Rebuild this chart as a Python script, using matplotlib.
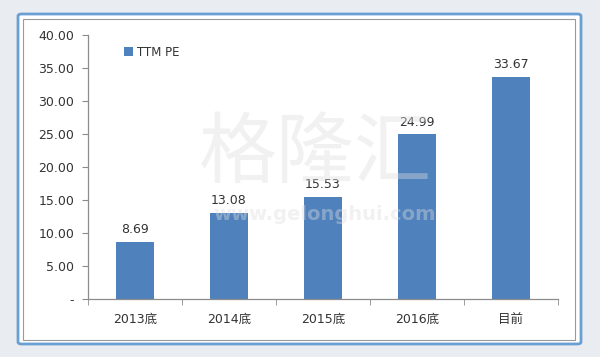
import matplotlib.pyplot as plt
from matplotlib.patches import FancyBboxPatch, Rectangle

plt.rcParams['font.family'] = ['DejaVu Sans', 'Noto Sans CJK SC']

categories = ["2013底", "2014底", "2015底", "2016底", "目前"]
ttm_pe = [8.69, 13.08, 15.53, 24.99, 33.67]
y_ticks = [0, 5, 10, 15, 20, 25, 30, 35, 40]
y_tick_labels = ["-", "5.00", "10.00", "15.00", "20.00", "25.00", "30.00", "35.00", "40.00"]

BAR_COLOR = "#4f81bd"
TEXT_COLOR = "#333333"
AXIS_COLOR = "#8c8c8c"

fig = plt.figure(figsize=(6.0, 3.57), dpi=100)
fig.patch.set_facecolor("#e9edf1")

# frame around the chart
W, H = 600.0, 357.0
fig.patches.append(FancyBboxPatch((18 / W, 1 - 344 / H), 563 / W, 330 / H,
                                  boxstyle="round,pad=0,rounding_size=0.006",
                                  transform=fig.transFigure, facecolor="white",
                                  edgecolor="#6a9fd4", linewidth=2.0, zorder=-2))
fig.patches.append(Rectangle((23 / W, 1 - 340 / H), 552 / W, 321 / H,
                             transform=fig.transFigure, facecolor="white",
                             edgecolor="#9a9a9a", linewidth=0.8, zorder=-1))

ax = fig.add_axes([88 / W, 1 - 299 / H, 470 / W, 264 / H])
ax.set_facecolor("none")

x = range(len(categories))
bars = ax.bar(x, ttm_pe, width=0.4, color=BAR_COLOR, label="TTM PE", zorder=2)
for xi, v in zip(x, ttm_pe):
    ax.annotate(f"{v:.2f}", (xi, v), xytext=(0, 4), textcoords="offset points",
                ha="center", va="bottom", fontsize=9, color=TEXT_COLOR)

ax.set_xlim(-0.5, len(categories) - 0.5)
ax.set_ylim(0, 40)
ax.set_yticks(y_ticks)
ax.set_yticklabels(y_tick_labels)
ax.set_xticks(list(x))
ax.set_xticklabels(categories)
ax.set_xticks([i - 0.5 for i in range(len(categories) + 1)], minor=True)
ax.tick_params(axis="x", which="major", length=0, pad=10, labelsize=9, labelcolor=TEXT_COLOR)
ax.tick_params(axis="x", which="minor", length=4, color=AXIS_COLOR, direction="out")
ax.tick_params(axis="y", length=4, color=AXIS_COLOR, pad=6, labelsize=9, labelcolor=TEXT_COLOR)

for side in ("top", "right"):
    ax.spines[side].set_visible(False)
for side in ("left", "bottom"):
    ax.spines[side].set_color(AXIS_COLOR)
    ax.spines[side].set_linewidth(0.9)

ax.legend(loc="upper left", bbox_to_anchor=(0.055, 1.0), frameon=False, fontsize=8.5,
          handlelength=0.7, handleheight=0.7, handletextpad=0.4,
          labelcolor=TEXT_COLOR)

# watermark, drawn over the bars like the original
fig.text(315 / W, 1 - 155 / H, "格隆汇", ha="center", va="center", fontsize=56,
         color="#dddddd", alpha=0.4, family=["Noto Sans CJK SC"], fontweight="light", zorder=5)
fig.text(325 / W, 1 - 214 / H, "www.gelonghui.com", ha="center", va="center", fontsize=14,
         color="#dddddd", alpha=0.4, fontweight="bold", zorder=5)

fig.savefig("out.png", dpi=100, facecolor=fig.get_facecolor())
